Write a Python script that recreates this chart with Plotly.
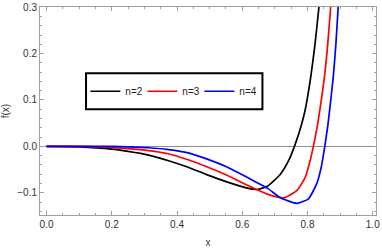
import plotly.graph_objects as go

# n = 2 (black)
x_n2 = [0, 0.1, 0.2, 0.25, 0.313, 0.374, 0.434, 0.495, 0.555, 0.616, 0.646, 0.677,
        0.717, 0.742, 0.760, 0.780, 0.793, 0.810, 0.823, 0.835, 0.845]
y_n2 = [0, -0.001, -0.006, -0.011, -0.019, -0.031, -0.045, -0.062, -0.077, -0.090, -0.093, -0.086,
        -0.060, -0.031, 0.0, 0.043, 0.079, 0.150, 0.22, 0.30, 0.37]

# n = 3 (red)
x_n3 = [0, 0.1, 0.2, 0.25, 0.313, 0.374, 0.434, 0.495, 0.555, 0.616, 0.677, 0.727,
        0.768, 0.793, 0.808, 0.818, 0.830, 0.838, 0.852, 0.862, 0.871, 0.88]
y_n3 = [0, 0, -0.002, -0.005, -0.009, -0.016, -0.029, -0.045, -0.063, -0.084, -0.103, -0.111,
        -0.095, -0.067, -0.031, 0.0, 0.043, 0.079, 0.150, 0.22, 0.30, 0.38]

# n = 4 (blue)
x_n4 = [0, 0.1, 0.2, 0.25, 0.313, 0.374, 0.434, 0.495, 0.555, 0.616, 0.677, 0.717,
        0.768, 0.803, 0.828, 0.843, 0.853, 0.862, 0.868, 0.879, 0.887, 0.894, 0.90]
y_n4 = [0, 0, 0, -0.001, -0.003, -0.007, -0.014, -0.028, -0.045, -0.067, -0.090, -0.111,
        -0.123, -0.113, -0.081, -0.042, 0.0, 0.043, 0.079, 0.150, 0.22, 0.30, 0.37]

series_names = ["n=2", "n=3", "n=4"]
series_colors = ["black", "#ff0000", "#0000ff"]
series_x = [x_n2, x_n3, x_n4]
series_y = [y_n2, y_n3, y_n4]

x_ticks = [0.0, 0.2, 0.4, 0.6, 0.8, 1.0]
x_tick_labels = ["0.0", "0.2", "0.4", "0.6", "0.8", "1.0"]
y_ticks = [-0.1, 0.0, 0.1, 0.2, 0.3]
y_tick_labels = ["\u22120.1", "0.0", "0.1", "0.2", "0.3"]

fig = go.Figure()
for name, col, xs, ys in zip(series_names, series_colors, series_x, series_y):
    fig.add_trace(go.Scatter(x=xs, y=ys, mode="lines", name=name,
                             line=dict(color=col, width=1.7, shape="spline", smoothing=0.5)))

font = dict(family="Liberation Sans, Arial", size=10, color="#333333")
axis_common = dict(showgrid=False, showline=True, mirror="allticks", linecolor="#a0a0a0",
                   linewidth=1, ticks="inside", ticklen=4, tickcolor="#a0a0a0",
                   tickfont=font, title_font=font, ticklabeloverflow="allow")

fig.update_xaxes(range=[-0.02, 1.01], tickvals=x_ticks, ticktext=x_tick_labels,
                 minor=dict(dtick=0.05, tick0=0, ticks="inside", ticklen=2, tickcolor="#a0a0a0"),
                 title_text="x", title_standoff=9, zeroline=False, **axis_common)
fig.update_yaxes(range=[-0.148, 0.3005], tickvals=y_ticks, ticktext=y_tick_labels,
                 minor=dict(dtick=0.02, tick0=0, ticks="inside", ticklen=2, tickcolor="#a0a0a0"),
                 title_text="f(x)", title_standoff=6, zeroline=True, zerolinecolor="#8c8c8c",
                 zerolinewidth=1, **axis_common)

# legend frame
fig.add_shape(type="rect", xref="paper", yref="paper", x0=0.137, x1=0.662, y0=0.508, y1=0.682,
              line=dict(color="black", width=2), fillcolor="white", layer="above")

fig.update_layout(
    width=382, height=248,
    margin=dict(l=40, r=2, t=5, b=33),
    paper_bgcolor="white", plot_bgcolor="white",
    showlegend=True,
    legend=dict(orientation="h", x=0.135, y=0.595, xanchor="left", yanchor="middle",
                bgcolor="rgba(0,0,0,0)", borderwidth=0,
                font=dict(family="Liberation Sans, Arial", size=10, color="#222222"),
                entrywidth=12, entrywidthmode="pixels"),
)

fig.write_html("out.html", config={"displayModeBar": False},
               post_script="document.body.style.margin='0';")
